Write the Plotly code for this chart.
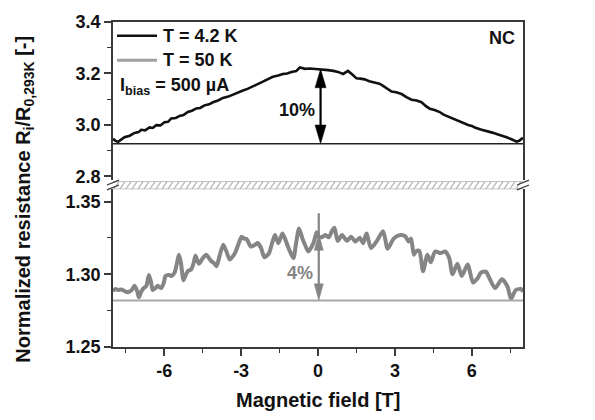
import plotly.graph_objects as go

# ---------------- data ----------------
field_42K = [-8.0, -7.9, -7.8, -7.65, -7.55, -7.35, -7.16, -7.0, -6.9, -6.75, -6.57, -6.45, -6.31, -6.15,
             -5.99, -5.85, -5.73, -5.55, -5.4, -5.25, -5.08, -4.92, -4.75, -4.6, -4.43, -4.25, -4.1, -3.9,
             -3.71, -3.5, -3.32, -3.1, -2.93, -2.75, -2.54, -2.35, -2.15, -1.95, -1.76, -1.55, -1.37, -1.2,
             -1.04, -0.85, -0.71, -0.5, -0.32, -0.1, 0.07, 0.25, 0.39, 0.6, 0.78, 0.98, 1.17, 1.35, 1.5,
             1.65, 1.82, 2.0, 2.21, 2.4, 2.54, 2.7, 2.87, 3.05, 3.26, 3.45, 3.65, 3.85, 4.04, 4.2, 4.36,
             4.55, 4.75, 4.9, 5.08, 5.3, 5.47, 5.65, 5.86, 6.0, 6.12, 6.35, 6.58, 6.8, 6.97, 7.15, 7.36,
             7.55, 7.75, 7.85, 7.95, 8.0]
res_42K = [2.946, 2.938, 2.934, 2.943, 2.952, 2.958, 2.969, 2.972, 2.981, 2.979, 2.990, 2.988, 2.999, 2.998,
           3.010, 3.012, 3.025, 3.027, 3.035, 3.038, 3.050, 3.055, 3.064, 3.066, 3.076, 3.080, 3.088, 3.095,
           3.105, 3.110, 3.118, 3.128, 3.134, 3.140, 3.149, 3.158, 3.168, 3.178, 3.187, 3.192, 3.198, 3.200,
           3.206, 3.209, 3.223, 3.218, 3.219, 3.217, 3.216, 3.215, 3.213, 3.210, 3.206, 3.198, 3.210, 3.195,
           3.181, 3.180, 3.177, 3.170, 3.165, 3.160, 3.152, 3.142, 3.130, 3.127, 3.120, 3.108, 3.098, 3.095,
           3.088, 3.074, 3.063, 3.058, 3.050, 3.040, 3.032, 3.025, 3.016, 3.008, 3.000, 2.996, 2.990, 2.982,
           2.977, 2.970, 2.965, 2.960, 2.952, 2.944, 2.935, 2.938, 2.948, 2.950]

field_50K = [-8.0, -7.9, -7.8, -7.68, -7.55, -7.42, -7.28, -7.16, -7.05, -6.99, -6.9, -6.8, -6.7, -6.6,
             -6.52, -6.45, -6.35, -6.25, -6.12, -6.02, -5.95, -5.8, -5.73, -5.6, -5.5, -5.43, -5.35, -5.25,
             -5.15, -5.08, -4.95, -4.85, -4.78, -4.65, -4.5, -4.36, -4.25, -4.16, -4.05, -3.96, -3.85, -3.7,
             -3.58, -3.44, -3.34, -3.24, -3.1, -2.98, -2.88, -2.79, -2.62, -2.46, -2.35, -2.22, -2.09, -1.91,
             -1.8, -1.68, -1.55, -1.39, -1.3, -1.22, -1.1, -0.96, -0.85, -0.74, -0.61, -0.5, -0.38, -0.18,
             -0.05, 0.03, 0.15, 0.29, 0.42, 0.55, 0.64, 0.77, 0.94, 1.13, 1.29, 1.46, 1.63, 1.76, 1.89, 2.07,
             2.3, 2.54, 2.72, 2.96, 3.22, 3.4, 3.54, 3.63, 3.74, 3.82, 3.95, 4.1, 4.27, 4.4, 4.57, 4.79, 4.96,
             5.12, 5.25, 5.44, 5.61, 5.84, 6.05, 6.23, 6.36, 6.55, 6.68, 6.91, 7.18, 7.4, 7.53, 7.72, 7.92, 8.0]
res_50K = [1.2885, 1.2899, 1.2892, 1.2895, 1.2885, 1.2876, 1.2890, 1.2921, 1.2880, 1.2842, 1.2880, 1.2905,
           1.2920, 1.2995, 1.2950, 1.2892, 1.2905, 1.2921, 1.2905, 1.2940, 1.2989, 1.2995, 1.2989, 1.3011,
           1.3080, 1.3135, 1.3080, 1.2959, 1.3000, 1.3022, 1.3034, 1.3080, 1.3130, 1.3072, 1.3110, 1.3135,
           1.3110, 1.3090, 1.3075, 1.3056, 1.3120, 1.3203, 1.3160, 1.3101, 1.3120, 1.3146, 1.3210, 1.3259,
           1.3245, 1.3243, 1.3191, 1.3203, 1.3215, 1.3180, 1.3117, 1.3146, 1.3210, 1.3270, 1.3214, 1.3281,
           1.3250, 1.3214, 1.3160, 1.3112, 1.3220, 1.3315, 1.3247, 1.3200, 1.3157, 1.3214, 1.3290, 1.3260,
           1.3255, 1.3270, 1.3255, 1.3300, 1.3320, 1.3230, 1.3270, 1.3230, 1.3259, 1.3225, 1.3252, 1.3214,
           1.3281, 1.3180, 1.3230, 1.3297, 1.3176, 1.3247, 1.3270, 1.3262, 1.3225, 1.3247, 1.3135, 1.3157,
           1.3162, 1.3022, 1.3135, 1.3083, 1.3157, 1.3146, 1.3157, 1.3112, 1.3000, 1.3072, 1.2989, 1.3068,
           1.2943, 1.2973, 1.3011, 1.3018, 1.2977, 1.2905, 1.2966, 1.2914, 1.2831, 1.2892, 1.2899, 1.2880]

baseline_42K = 2.927
peak_42K = 3.217
baseline_50K = 1.282
peak_50K = 1.328
top_50K_line = 1.342

x_ticks = [-6, -3, 0, 3, 6]
y_top_ticks = [2.8, 3.0, 3.2, 3.4]
y_bot_ticks = [1.25, 1.30, 1.35]

# ---------------- layout geometry ----------------
W, H = 595, 420
ML, MR, MT, MB = 113, 72, 16, 73
PW, PH = W - ML - MR, H - MT - MB
XR = [-8, 8]
TOP_DOM = [(H - MB - 177) / PH, 1.0]
BOT_DOM = [0.0, (H - MB - 186.5) / PH]
YTOP_R = [2.7855, 3.4]
YBOT_R = [1.25, 1.3584]

def px(xp):
    return (xp - ML) / PW

def py(yp):
    return (H - MB - yp) / PH

x_unit = PW / (XR[1] - XR[0])
ytop_unit = (TOP_DOM[1] - TOP_DOM[0]) * PH / (YTOP_R[1] - YTOP_R[0])
ybot_unit = (BOT_DOM[1] - BOT_DOM[0]) * PH / (YBOT_R[1] - YBOT_R[0])

FONT = "Liberation Sans, Arial, sans-serif"
DARK = "#111111"
GRAY = "#858585"
AXC = "#3a3a3a"

fig = go.Figure()
fig.add_trace(go.Scatter(x=field_42K, y=res_42K, mode="lines", xaxis="x2", yaxis="y2",
                         line=dict(color=DARK, width=2.6), showlegend=False, name="T = 4.2 K"))
fig.add_trace(go.Scatter(x=field_50K, y=res_50K, mode="lines", xaxis="x", yaxis="y",
                         line=dict(color=GRAY, width=4, shape="spline", smoothing=0.7),
                         showlegend=False, name="T = 50 K"))

shapes = []
# baselines
shapes.append(dict(type="line", xref="x2 domain", yref="y2", x0=0, x1=1, y0=baseline_42K, y1=baseline_42K,
                   line=dict(color="#222222", width=1.6)))
shapes.append(dict(type="line", xref="x domain", yref="y", x0=0, x1=1, y0=baseline_50K, y1=baseline_50K,
                   line=dict(color="#a8a8a8", width=1.8)))

def double_arrow(xc, y0, y1, yref, xref, yunit, color, lw, hw, hl, ytop_line=None):
    out = []
    ya = y1 if ytop_line is None else ytop_line
    out.append(dict(type="line", xref=xref, yref=yref, x0=xc, x1=xc, y0=y0 + hl / yunit * 0.5,
                    y1=ya - (0 if ytop_line is not None else hl / yunit * 0.5), line=dict(color=color, width=lw)))
    dx = hw / 2 / x_unit
    dy = hl / yunit
    out.append(dict(type="path", xref=xref, yref=yref, fillcolor=color, line=dict(color=color, width=0.5),
                    path=f"M {xc},{y1} L {xc - dx},{y1 - dy} L {xc + dx},{y1 - dy} Z"))
    out.append(dict(type="path", xref=xref, yref=yref, fillcolor=color, line=dict(color=color, width=0.5),
                    path=f"M {xc},{y0} L {xc - dx},{y0 + dy} L {xc + dx},{y0 + dy} Z"))
    return out

shapes += double_arrow(0.1, baseline_42K, peak_42K, "y2", "x2", ytop_unit, "#000000", 2.2, 11, 19)
shapes += double_arrow(0.03, baseline_50K, peak_50K, "y", "x", ybot_unit, GRAY, 2.2, 9, 17, ytop_line=top_50K_line)

# hatched break band
b_top, b_bot = 178.5, 186.0
shapes.append(dict(type="line", xref="paper", yref="paper", x0=0, x1=1, y0=py(b_top), y1=py(b_top),
                   line=dict(color="#c4c4c4", width=1)))
shapes.append(dict(type="line", xref="paper", yref="paper", x0=0, x1=1, y0=py(b_bot), y1=py(b_bot),
                   line=dict(color="#c4c4c4", width=1)))
xh = ML + 1
while xh < ML + PW - 5:
    shapes.append(dict(type="line", xref="paper", yref="paper", x0=px(xh), x1=px(xh + 5),
                       y0=py(b_bot), y1=py(b_top), line=dict(color="#b4b4b4", width=1.2)))
    xh += 6
# break marks
for xa in (ML, ML + PW):
    for off in (0, 5):
        shapes.append(dict(type="line", xref="paper", yref="paper", x0=px(xa - 6), x1=px(xa + 6),
                           y0=py(182 + off), y1=py(177 + off), line=dict(color=AXC, width=1.3)))
# legend samples
shapes.append(dict(type="line", xref="paper", yref="paper", x0=px(117), x1=px(157), y0=py(30), y1=py(30),
                   line=dict(color=DARK, width=2.6)))
shapes.append(dict(type="line", xref="paper", yref="paper", x0=px(117), x1=px(157), y0=py(55), y1=py(55),
                   line=dict(color="#a0a0a0", width=3)))

def ann(text, x, y, size=18, color=DARK, xanchor="left", yanchor="middle", textangle=0):
    return dict(text=text, xref="paper", yref="paper", x=px(x), y=py(y), showarrow=False,
                xanchor=xanchor, yanchor=yanchor, textangle=textangle,
                font=dict(family=FONT, size=size, color=color, weight="bold"))

annotations = [
    ann("T = 4.2 K", 161, 30),
    ann("T = 50 K", 161, 55),
    ann("I<sub>bias</sub> = 500 µA", 118, 82),
    ann("NC", 517, 32, xanchor="right"),
    ann("10%", 317, 106, xanchor="right"),
    ann("4%", 315, 272, color=GRAY, xanchor="right"),
    ann("Magnetic field [T]", ML + PW / 2, 401, size=20, xanchor="center"),
    ann("Normalized resistance R<sub>i</sub>/R<sub>0,293K</sub> [-]", 25, 197, size=20,
        xanchor="center", textangle=-90),
]

tickfont = dict(family=FONT, size=18, color=DARK, weight="bold")
common_y = dict(showline=True, linecolor=AXC, linewidth=1.6, mirror=True, ticks="outside", ticklen=7,
                tickwidth=1.5, tickcolor=AXC, showgrid=False, zeroline=False, tickfont=tickfont)

fig.update_layout(
    width=W, height=H, margin=dict(l=ML, r=MR, t=MT, b=MB),
    paper_bgcolor="white", plot_bgcolor="white", showlegend=False,
    xaxis=dict(range=XR, anchor="y", tickvals=x_ticks, ticktext=[str(v) for v in x_ticks],
               showline=True, linecolor=AXC, linewidth=1.6, ticks="outside", ticklen=7, tickwidth=1.5,
               tickcolor=AXC, showgrid=False, zeroline=False, tickfont=tickfont,
               minor=dict(ticks="outside", dtick=1.5, tick0=0, ticklen=4, tickwidth=1.3, tickcolor=AXC)),
    xaxis2=dict(range=XR, anchor="y2", matches="x", showticklabels=False, showline=True, side="top",
                linecolor=AXC, linewidth=1.6, ticks="", showgrid=False, zeroline=False),
    yaxis=dict(domain=BOT_DOM, range=YBOT_R, tickvals=y_bot_ticks, ticktext=[f"{v:.2f}" for v in y_bot_ticks],
               minor=dict(ticks="outside", dtick=0.025, tick0=1.25, ticklen=4, tickwidth=1.3, tickcolor=AXC),
               **common_y),
    yaxis2=dict(domain=TOP_DOM, range=YTOP_R, tickvals=y_top_ticks, ticktext=[f"{v:.1f}" for v in y_top_ticks],
                minor=dict(ticks="outside", dtick=0.1, tick0=2.8, ticklen=4, tickwidth=1.3, tickcolor=AXC),
                **common_y),
    shapes=shapes, annotations=annotations,
)

fig.write_html("out.html")
